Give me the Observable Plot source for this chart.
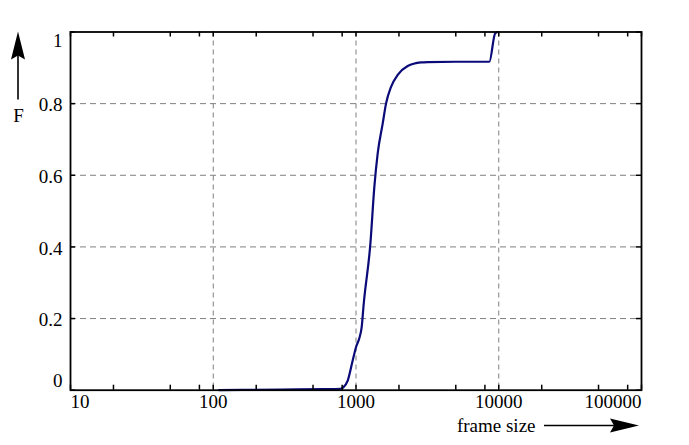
<!DOCTYPE html>
<html><head><meta charset="utf-8">
<script src="https://cdn.jsdelivr.net/npm/d3@7"></script>
<script src="https://cdn.jsdelivr.net/npm/@observablehq/plot@0.6"></script>
<style>body{margin:0;background:#fff} svg text{font-family:"Liberation Serif",serif !important;}</style>
</head><body><div id="chart"></div>
<script>
const frameSizes = [110, 300, 600, 780, 815, 875, 948, 1000, 1055, 1096, 1132, 1261, 1344, 1419, 1539, 1623, 1760, 1960, 2302, 2855, 3183, 5000, 8596, 9426, 9820];
const cdf = [0, 0.002, 0.003, 0.004, 0.008, 0.027, 0.083, 0.12, 0.145, 0.176, 0.24, 0.409, 0.567, 0.661, 0.745, 0.8, 0.847, 0.88, 0.905, 0.915, 0.916, 0.917, 0.917, 0.996, 1.0];
const xMajor = [10, 100, 1000, 10000, 100000];
const xMinor = [20, 50, 80, 200, 500, 800, 2000, 5000, 8000, 20000, 50000, 80000];
const xGrid = [100, 1000, 10000];
const yTicks = [0, 0.2, 0.4, 0.6, 0.8, 1];
const yGrid = [0.2, 0.4, 0.6, 0.8];
const yLabels = ["0", "0.2", "0.4", "0.6", "0.8", "1"];
const xLabel = "frame size";
const yLabel = "F";

const data = frameSizes.map((s, i) => ({size: s, F: cdf[i]}));
const W = 689, H = 445;
const mL = 70, mR = 48, mT = 31.5, mB = 55.3;
const pw = W - mL - mR, ph = H - mT - mB;
const font = "Liberation Serif";
const fs = 19;
const tl = 5;
const txt = {fill: "black", fontFamily: font, fontSize: fs};

function arrows(index, scales, values, dims) {
  const ns = "http://www.w3.org/2000/svg";
  const g = document.createElementNS(ns, "g");
  const add = (tag, attrs) => { const e = document.createElementNS(ns, tag); for (const k in attrs) e.setAttribute(k, attrs[k]); g.appendChild(e); };
  const ax = 18;
  add("line", {x1: ax, y1: dims.marginTop + 68, x2: ax, y2: dims.marginTop + 20, stroke: "black", "stroke-width": 1.6});
  add("path", {d: `M${ax},${dims.marginTop} L${ax+7},${dims.marginTop+28} L${ax},${dims.marginTop+24} L${ax-7},${dims.marginTop+28} Z`, fill: "black"});
  const ay = dims.height - 19.5;
  const right = dims.width - dims.marginRight - 2;
  add("line", {x1: right - 95, y1: ay, x2: right - 20, y2: ay, stroke: "black", "stroke-width": 1.6});
  add("path", {d: `M${right},${ay} L${right-29},${ay-7} L${right-25},${ay} L${right-29},${ay+7} Z`, fill: "black"});
  return g;
}

const chart = Plot.plot({
  width: W, height: H,
  marginLeft: mL, marginRight: mR, marginTop: mT, marginBottom: mB,
  style: {fontFamily: font, fontSize: "19px", background: "#fff"},
  x: {type: "log", domain: [10, 100000], axis: null},
  y: {domain: [0, 1], axis: null},
  marks: [
    Plot.ruleX(xGrid, {x: d => d, stroke: "#7f7f7f", strokeWidth: 1, strokeDasharray: "5,4"}),
    Plot.ruleY(yGrid, {y: d => d, stroke: "#7f7f7f", strokeWidth: 1, strokeDasharray: "6,4"}),
    Plot.line(data, {x: "size", y: "F", stroke: "#0a0a78", strokeWidth: 2.2, curve: "monotone-x"}),
    Plot.tickX(xMajor.concat(xMinor), {x: d => d, insetTop: ph - tl, stroke: "black", strokeWidth: 1.5}),
    Plot.tickX(xMajor.concat(xMinor), {x: d => d, insetBottom: ph - tl, stroke: "black", strokeWidth: 1.5}),
    Plot.tickY(yTicks, {y: d => d, insetRight: pw - tl, stroke: "black", strokeWidth: 1.5}),
    Plot.tickY(yTicks, {y: d => d, insetLeft: pw - tl, stroke: "black", strokeWidth: 1.5}),
    Plot.frame({stroke: "black", strokeWidth: 1.8}),
    Plot.text(xMajor.slice(1, -1), {x: d => d, frameAnchor: "bottom", dy: 12, text: d => String(d), lineAnchor: "middle", ...txt}),
    Plot.text(xMajor.slice(0, 1), {x: d => d, frameAnchor: "bottom", dy: 12, text: d => String(d), lineAnchor: "middle", textAnchor: "start", ...txt}),
    Plot.text(xMajor.slice(-1), {x: d => d, frameAnchor: "bottom", dy: 12, text: d => String(d), lineAnchor: "middle", textAnchor: "end", ...txt}),
    Plot.text(yTicks.slice(1, -1), {y: d => d, frameAnchor: "left", dx: -8, dy: 1.5, text: (d, i) => yLabels[i + 1], textAnchor: "end", lineAnchor: "middle", ...txt}),
    Plot.text([0], {y: d => d, frameAnchor: "left", dx: -8, dy: -9.5, text: () => yLabels[0], textAnchor: "end", lineAnchor: "middle", ...txt}),
    Plot.text([1], {y: d => d, frameAnchor: "left", dx: -8, dy: 8.5, text: () => yLabels[5], textAnchor: "end", lineAnchor: "middle", ...txt}),
    Plot.text([yLabel], {frameAnchor: "top-left", dx: -52, dy: 83.5, text: d => d, textAnchor: "middle", lineAnchor: "middle", ...txt}),
    Plot.text([xLabel], {frameAnchor: "bottom-right", dx: -106, dy: 35.5, text: d => d, textAnchor: "end", lineAnchor: "middle", ...txt}),
    arrows
  ]
});
document.getElementById("chart").appendChild(chart);
</script>
</body></html>
